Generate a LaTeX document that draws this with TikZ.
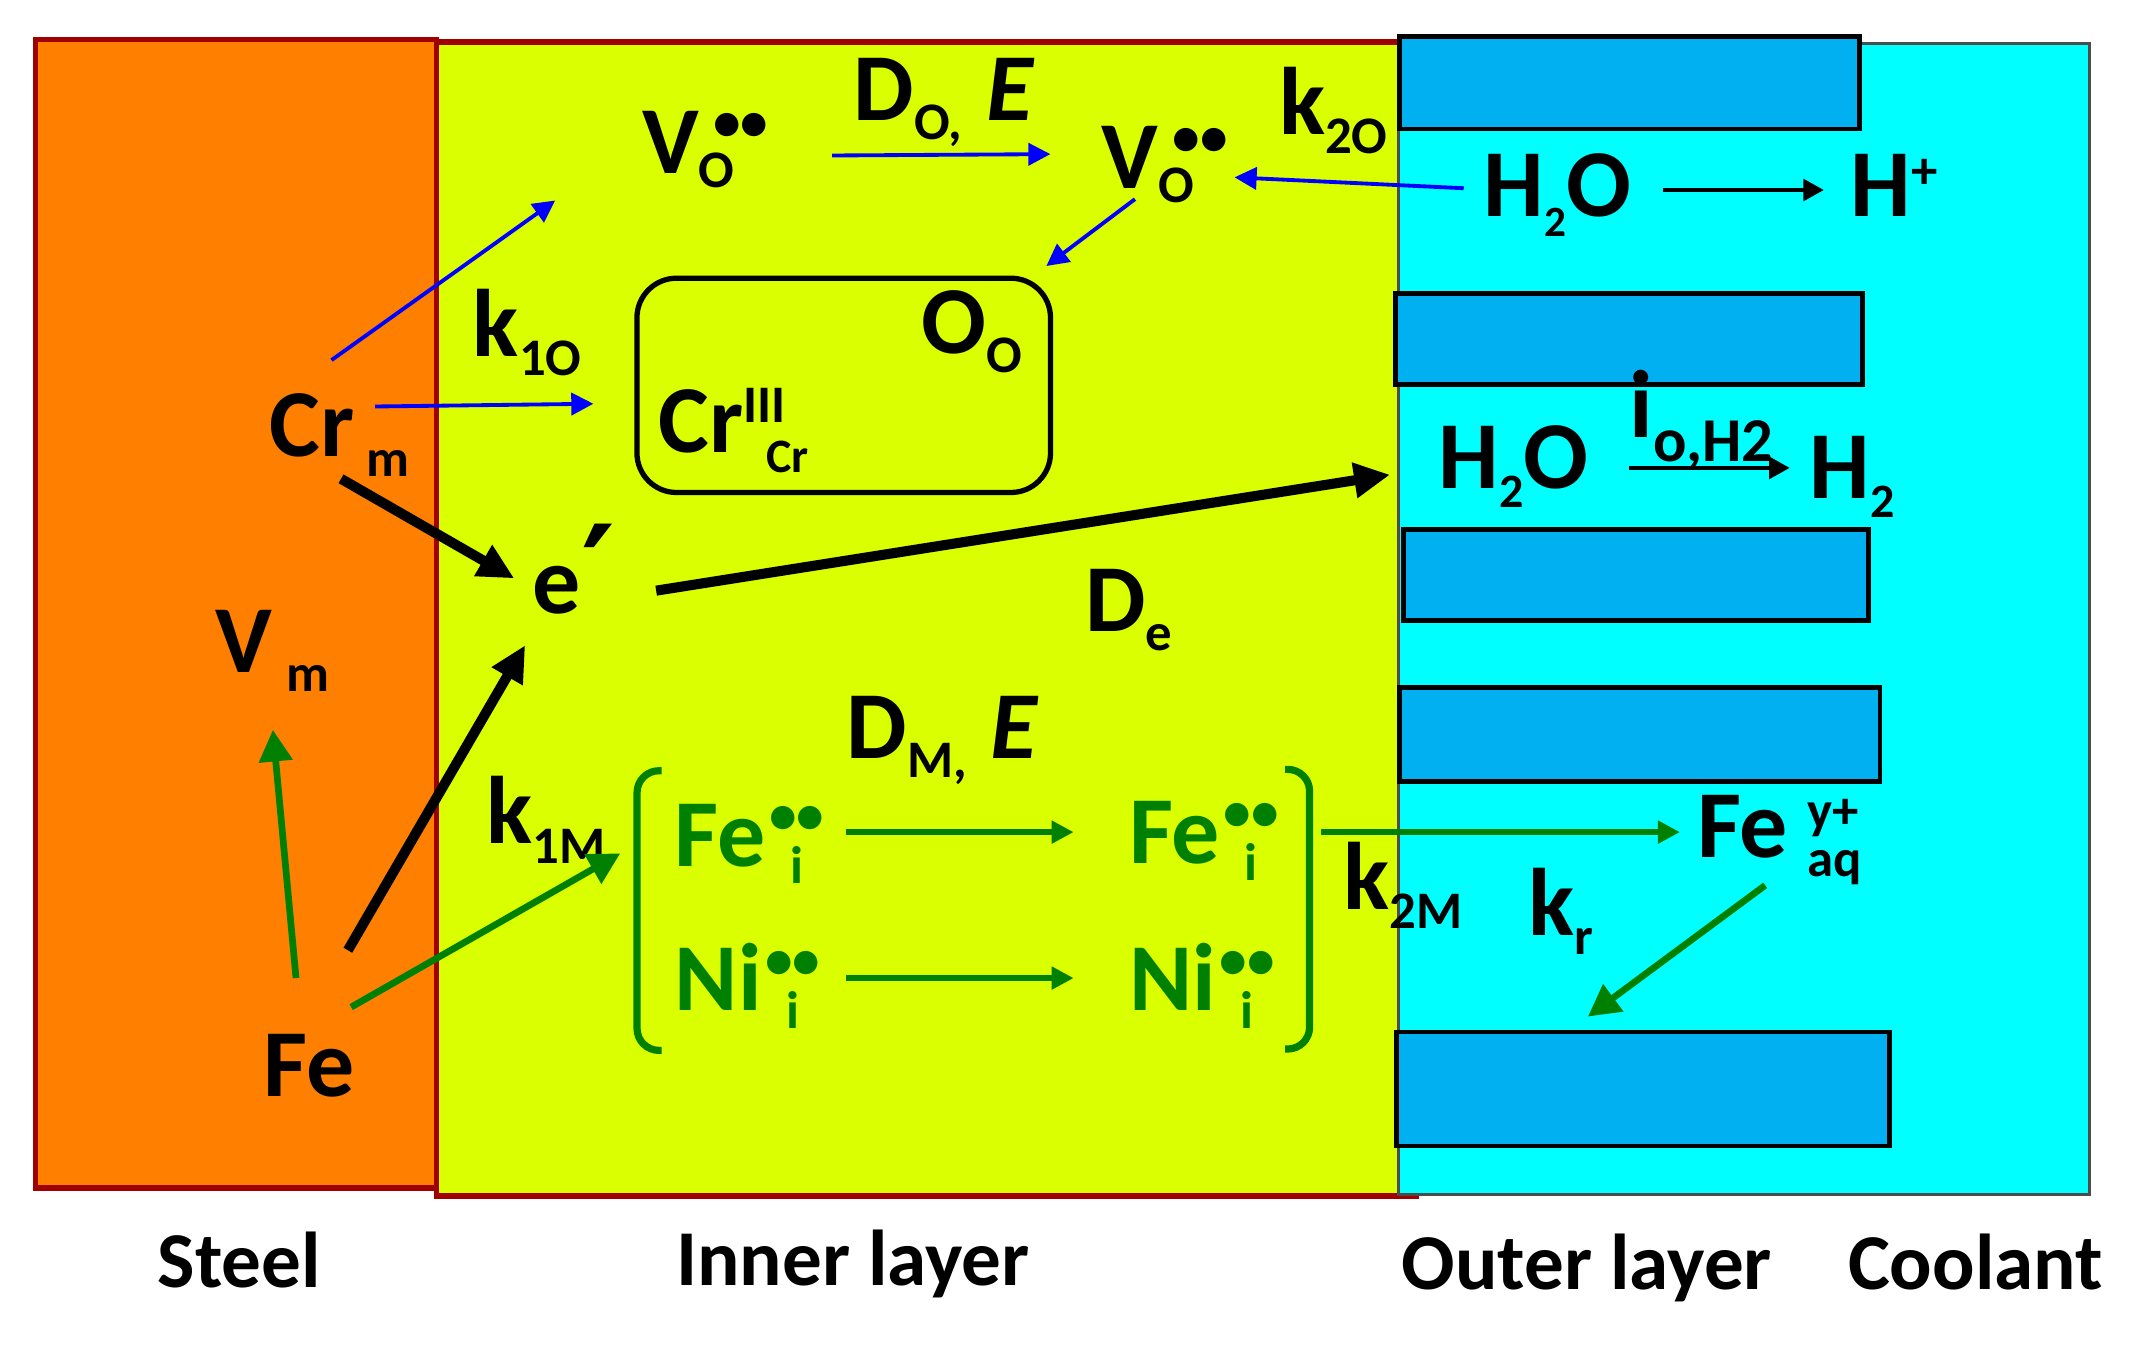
\documentclass[tikz,border=0pt]{standalone}
\usepackage{fontspec}
\setmainfont{Carlito}
\newfontfamily\symfont{DejaVu Sans}
\definecolor{steelorange}{RGB}{255,128,0}
\definecolor{oxidered}{RGB}{160,0,0}
\definecolor{innerlime}{RGB}{217,255,0}
\definecolor{coolcyan}{RGB}{0,255,255}
\definecolor{grainblue}{RGB}{0,176,240}
\definecolor{ongreen}{RGB}{0,128,0}
\definecolor{onblue}{RGB}{0,0,255}
\usetikzlibrary{arrows.meta}
% sub- and superscripts in the small size
\newcommand{\sbs}[2][11]{\raisebox{-4pt}{\fontsize{#1}{#1}\selectfont #2}}
\newcommand{\sps}[2][11]{\raisebox{6pt}{\fontsize{#1}{#1}\selectfont #2}}
\newcommand{\dotsup}{\raisebox{6.8pt}{\fontsize{11.5}{11.5}\selectfont ••}}
\newcommand{\kvo}[1]{#1\rlap{\kern3pt\dotsup}\raisebox{-3pt}{\fontsize{11}{11}\selectfont O}}
\newcommand{\kvi}[1]{#1\kern2pt\rlap{\makebox[9pt]{\dotsup}}\makebox[9pt]{\raisebox{-3.6pt}{\fontsize{11}{11}\selectfont i}}}

\begin{document}
\begin{tikzpicture}[x=0.01cm,y=-0.01cm,font=\fontsize{20}{24}\selectfont\bfseries,
  chem/.style={inner sep=0pt,anchor=base west},
  lab/.style={chem,font=\fontsize{16.5}{20}\selectfont\bfseries},
  grain/.style={draw=black,line width=1pt,fill=grainblue,inner sep=0pt},
  bluearr/.style={draw=onblue,line width=0.8pt,-{Triangle[length=4.6pt,width=4.6pt]}},
  blackarr/.style={draw=black,line width=2.1pt,-{Triangle[length=7.5pt,width=7pt]}},
  thinarr/.style={draw=black,line width=0.9pt,-{Triangle[length=4.3pt,width=4.5pt]}},
  greenarr/.style={draw=ongreen,line width=1.1pt,-{Triangle[length=4.6pt,width=4.6pt]}},
  greenbig/.style={draw=ongreen,line width=1.4pt,-{Triangle[length=6.6pt,width=6.8pt]}},
  bracket/.style={ongreen,line width=1.5pt,rounded corners=0.16cm}]
  \useasboundingbox (0,0) rectangle (1568,995);

  % layers
  \draw[oxidered,line width=1.2pt,fill=innerlime] (320,31) rectangle (1038,877);
  \draw[oxidered,line width=1.2pt,fill=steelorange] (26,29) rectangle (320,871);
  \draw[black!70,line width=0.6pt,fill=coolcyan] (1025,32) rectangle (1532,875.7);
  \foreach \gname/\gx/\gy/\gw/\gh in {gA/1194.5/60.75/3.37/0.675, gB/1194/248.5/3.42/0.67,
      gC/1199.3/421.5/3.41/0.67, gD/1202/538.3/3.52/0.69, gE/1204.5/798.25/3.61/0.835}
    \node[grain,minimum width=\gw cm,minimum height=\gh cm] (\gname) at (\gx,\gy) {};

  % oxygen side
  \node[chem] (vol) at (470,127) {\kvo{V}};
  \node[chem] (dolab) at (625,88) {D\sbs{O,}\kern5pt\textit{E}};
  \node[chem] (vor) at (807,138) {\kvo{V}};
  \node[chem] (ktwoo) at (937,98.5) {k\sbs{2O}};
  \node[chem] (wattop) at (1087,159) {H\sbs[9]{2}O};
  \node[chem] (hplus) at (1356,159) {H\sps{+}};
  \node[chem] (kone) at (346,261) {k\sbs{1O}};
  \node[draw,line width=1.1pt,rounded corners=0.29cm,minimum width=3.03cm,minimum height=1.57cm] (oxide) at (618.5,282.5) {};
  \node[chem] (oo) at (675,259) {O\sbs{O}};
  \node[chem] (crcr) at (482,332) {Cr\rlap{\raisebox{6.3pt}{\fontsize{11}{11}\selectfont III}}\kern4.8pt\sbs[10]{Cr}};
  \node[chem] (crm) at (197,335) {Cr\kern2.5pt\sbs{m}};

  % electrons
  \node[chem] (elec) at (390,450) {e\raisebox{-1pt}{\symfont\fontsize{27}{27}\selectfont ′}};
  \node[chem] (wat) at (1054,358) {H\sbs[10]{2}O};
  \node[chem] (htwo) at (1326,365.6) {H\sbs[10]{2}};
  \node[chem] (ilab) at (1194,321) {i\raisebox{-5pt}{\fontsize{13}{13}\selectfont o,H2}};
  \node[chem] (de) at (795,462.6) {D\sbs{e}};

  % metal side
  \node[chem] (vm) at (157,493) {V\kern3pt\sbs{m}};
  \node[chem] (fe) at (192.4,804) {Fe};
  \node[chem] (kom) at (356,618.6) {k\sbs{1M}};
  \node[chem] (dm) at (620,555.8) {D\sbs{M,}\kern5pt\textit{E}};
  \node[chem,text=ongreen] (fei) at (494,635) {\kvi{Fe}};
  \node[chem,text=ongreen] (nii) at (494,741) {\kvi{Ni}};
  \node[chem,text=ongreen] (feib) at (827,633) {\kvi{Fe}};
  \node[chem,text=ongreen] (niib) at (827,741) {\kvi{Ni}};
  \draw[bracket] (485,565) -- (467,565) -- (467,770) -- (485,770);
  \draw[bracket] (942,564) -- (960,564) -- (960,769) -- (942,769);
  \node[chem] (ktm) at (984.4,666.6) {k\sbs{2M}};
  \node[chem] (kr) at (1120,685.6) {k\sbs{r}};
  \node[chem] (feaq) at (1243.5,628.5) {Fe\kern4pt\rlap{\sps{y+}}\sbs{aq}};

  % arrows
  \draw[bluearr] ([shift={(140,-13)}]vol.base west) -- ([shift={(-37,-25)}]vor.base west);
  \draw[bluearr] ([shift={(-14,-21)}]wattop.base west) -- ([shift={(98,-8)}]vor.base west);
  \draw[bluearr] ([shift={(25,8)}]vor.base west) -- ([shift={(-5,-7)}]oxide.north east);
  \draw[bluearr] ([shift={(46,-71)}]crm.base west) -- ([shift={(-63,20)}]vol.base west);
  \draw[bluearr] ([shift={(78,-37)}]crm.base west) -- ([shift={(-30,13.5)}]oxide.west);
  \draw[blackarr] ([shift={(53,16)}]crm.base west) -- ([shift={(-13,-26)}]elec.base west);
  \draw[blackarr] ([shift={(91,-17)}]elec.base west) -- ([shift={(-35,-10)}]wat.base west);
  \draw[thinarr] ([shift={(132,-19.7)}]wattop.base west) -- ([shift={(-19,-19.7)}]hplus.base west);
  \draw[thinarr] ([shift={(140,-15)}]wat.base west) -- ([shift={(-14,-22.6)}]htwo.base west);
  \draw[greenbig] ([shift={(24.6,-87)}]fe.base west) -- ([shift={(43,42)}]vm.base west);
  \draw[blackarr] ([shift={(62.6,-107.4)}]fe.base west) -- ([shift={(-5,23)}]elec.base west);
  \draw[greenbig] ([shift={(65,-65.7)}]fe.base west) -- ([shift={(-39.3,-9.4)}]fei.base west);
  \draw[greenarr] ([shift={(126,-25)}]fei.base west) -- ([shift={(-40,-23)}]feib.base west);
  \draw[greenarr] ([shift={(126,-24)}]nii.base west) -- ([shift={(-40,-24)}]niib.base west);
  \draw[greenarr] ([shift={(141.5,-23)}]feib.base west) -- ([shift={(-12,-18.5)}]feaq.base west);
  \draw[greenbig] ([shift={(50.5,20.5)}]feaq.base west) -- ([shift={(-40.5,-9.5)}]gE.north);

  % layer names
  \node[lab] (steel) at (115,943.5) {Steel};
  \node[lab] (inner) at (495,942) {Inner layer};
  \node[lab] (outer) at (1027,945.5) {Outer layer};
  \node[lab] (cool) at (1354,945.5) {Coolant};
\end{tikzpicture}
\end{document}
